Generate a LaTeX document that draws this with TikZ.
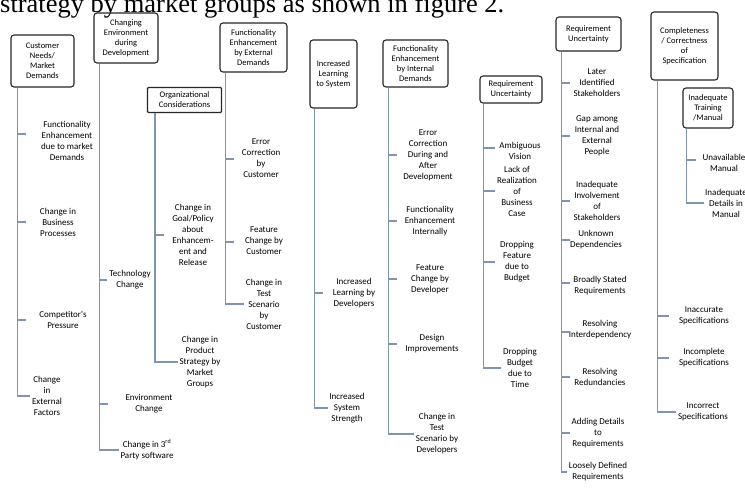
\documentclass[tikz,border=0pt]{standalone}
\usepackage{fontspec}
\newfontfamily\cf{Carlito}
\newfontfamily\capfont{Liberation Serif}
\definecolor{trunkcol}{RGB}{128,148,176}
\begin{document}
\begin{tikzpicture}[x=1pt,y=-1pt,
  hbox/.style={draw=black!85, rounded corners=3pt, line width=1.1pt, align=center,
    font=\cf\fontsize{8.5}{10}\selectfont, inner sep=0pt},
  lbl/.style={align=center, font=\cf\fontsize{9}{11}\selectfont, inner sep=1.5pt},
  trunk/.style={draw=trunkcol, line width=1.3pt},
]
\useasboundingbox (0,0) rectangle (745,491);
\fill[white] (0,0) rectangle (745,491);
\begin{scope}
\clip (0,0) rectangle (745,491);
\node[anchor=base west, inner sep=0pt, font=\capfont\fontsize{26.5}{26.5}\selectfont] (cap) at (0,12) {strategy by market groups as shown in figure 2.};

% boxes
\node[hbox, minimum width=63, minimum height=52] (c1) at (42.5,61) {Customer\\Needs/\\Market\\Demands};
\node[hbox, minimum width=64, minimum height=50] (c2) at (126,38) {Changing\\Environment\\during\\Development};
\node[hbox, rounded corners=1pt, minimum width=74, minimum height=25] (c3) at (184.5,100) {Organizational\\Considerations};
\node[hbox, minimum width=67, minimum height=49] (c4) at (253.5,47.5) {Functionality\\Enhancement\\by External\\Demands};
\node[hbox, minimum width=47, minimum height=68] (c5) at (333.5,74) {Increased\\Learning\\to System};
\node[hbox, minimum width=65, minimum height=47] (c6) at (415.5,63.5) {Functionality\\Enhancement\\by Internal\\Demands};
\node[hbox, minimum width=62, minimum height=27] (c7) at (511,89.5) {Requirement\\Uncertainty};
\node[hbox, minimum width=65, minimum height=34] (c8) at (588.5,34) {Requirement\\Uncertainty};
\node[hbox, minimum width=67, minimum height=68] (c9) at (684.5,46) {Completeness\\/ Correctness\\of\\Specification};
\node[hbox, minimum width=50, minimum height=40] (c10) at (708,108) {Inadequate\\Training\\/Manual};

% trunk tops
\coordinate (t1) at ([xshift=7pt]c1.south west);
\coordinate (t2) at ([xshift=6pt]c2.south west);
\coordinate (t3) at ([xshift=8pt]c3.south west);
\coordinate (t4) at ([xshift=6pt]c4.south west);
\coordinate (t5) at ([xshift=5pt]c5.south west);
\coordinate (t6) at ([xshift=6pt]c6.south west);
\coordinate (t7) at ([xshift=4pt]c7.south west);
\coordinate (t8) at ([xshift=6pt]c8.south west);
\coordinate (t9) at ([xshift=7pt]c9.south west);
\coordinate (t10) at ([xshift=4pt]c10.south west);

% column 1
\node[lbl] (l1a) at (67,141) {Functionality\\Enhancement\\due to market\\Demands};
\node[lbl] (l1b) at (58,222) {Change in\\Business\\Processes};
\node[lbl] (l1c) at (63,320) {Competitor's\\Pressure};
\node[lbl] (l1d) at (47,396) {Change\\in\\External\\Factors};
\draw[trunk] (t1) |- (l1d.west);
\draw[trunk] (t1 |- l1a) ++(0,-7) -- ++(9,0);
\draw[trunk] (t1 |- l1b) -- ++(9,0);
\draw[trunk] (t1 |- l1c) -- ++(9,0);

% column 2
\node[lbl] (l2a) at (130,280) {Technology\\Change};
\node[lbl] (l2b) at (149,404) {Environment\\Change};
\node[lbl] (l2c) at (147,450) {Change in 3\textsuperscript{rd}\\Party software};
\draw[trunk] (t2) |- (l2c.west);
\draw[trunk] (t2 |- l2a) -- ++(8,0);
\draw[trunk] (t2 |- l2b) -- ++(9,0);

% column 3
\node[lbl] (l3a) at (193,235) {Change in\\Goal/Policy\\about\\Enhancem-\\ent and\\Release};
\node[lbl] (l3b) at (200,362) {Change in\\Product\\Strategy by\\Market\\Groups};
\draw[trunk] (t3) |- (l3b.west);
\draw[trunk] (t3 |- l3a) -- ++(9,0);

% column 4
\node[lbl] (l4a) at (261,158) {Error\\Correction\\by\\Customer};
\node[lbl] (l4b) at (264,241) {Feature\\Change by\\Customer};
\node[lbl] (l4c) at (264,304) {Change in\\Test\\Scenario\\by\\Customer};
\draw[trunk] (t4) |- (l4c.west);
\draw[trunk] (t4 |- l4a) ++(0,1) -- ++(9,0);
\draw[trunk] (t4 |- l4b) ++(0,1) -- ++(9,0);

% column 5
\node[lbl] (l5a) at (354,293) {Increased\\Learning by\\Developers};
\node[lbl] (l5b) at (347,408) {Increased\\System\\Strength};
\draw[trunk] (t5) |- (l5b.west);
\draw[trunk] (t5 |- l5a) -- ++(9,0);

% column 6
\node[lbl] (l6a) at (428,155) {Error\\Correction\\During and\\After\\Development};
\node[lbl] (l6b) at (430,221) {Functionality\\Enhancement\\Internally};
\node[lbl] (l6c) at (430,279) {Feature\\Change by\\Developer};
\node[lbl] (l6d) at (432,344) {Design\\Improvements};
\node[lbl] (l6e) at (437,434) {Change in\\Test\\Scenario by\\Developers};
\draw[trunk] (t6) |- (l6e.west);
\draw[trunk] (t6 |- l6a) -- ++(9,0);
\draw[trunk] (t6 |- l6b) -- ++(9,0);
\draw[trunk] (t6 |- l6c) -- ++(9,0);
\draw[trunk] (t6 |- l6d) -- ++(9,0);

% column 7
\node[lbl] (l7a) at (520,151) {Ambiguous\\Vision};
\node[lbl] (l7b) at (517,191) {Lack of\\Realization\\of\\Business\\Case};
\node[lbl] (l7c) at (517,262) {Dropping\\Feature\\due to\\Budget};
\node[lbl] (l7d) at (520,368) {Dropping\\Budget\\due to\\Time};
\draw[trunk] (t7) |- (l7d.west);
\draw[trunk] (t7 |- l7a) ++(0,-3) -- ++(12,0);
\draw[trunk] (t7 |- l7b) -- ++(12,0);
\draw[trunk] (t7 |- l7c) -- ++(12,0);

% column 8
\node[lbl] (l8a) at (597,83) {Later\\Identified\\Stakeholders};
\node[lbl] (l8b) at (597,136) {Gap among\\Internal and\\External\\People};
\node[lbl] (l8c) at (597,201) {Inadequate\\Involvement\\of\\Stakeholders};
\node[lbl] (l8d) at (596,240) {Unknown\\Dependencies};
\node[lbl] (l8e) at (600,286) {Broadly Stated\\Requirements};
\node[lbl] (l8f) at (600,330) {Resolving\\Interdependency};
\node[lbl] (l8g) at (600,377) {Resolving\\Redundancies};
\node[lbl] (l8h) at (598,433) {Adding Details\\to\\Requirements};
\node[lbl] (l8i) at (598,472) {Loosely Defined\\Requirements};
\draw[trunk] (t8) |- (l8i.west);
\draw[trunk] (t8 |- l8a) -- ++(9,0);
\draw[trunk] (t8 |- l8b) -- ++(9,0);
\draw[trunk] (t8 |- l8c) -- ++(9,0);
\draw[trunk] (t8 |- l8d) -- ++(9,0);
\draw[trunk] (t8 |- l8e) ++(0,-3) -- ++(9,0);
\draw[trunk] (t8 |- l8f) ++(0,2) -- ++(9,0);
\draw[trunk] (t8 |- l8g) -- ++(9,0);
\draw[trunk] (t8 |- l8h) -- ++(9,0);

% column 9
\node[lbl] (l9a) at (704,316) {Inaccurate\\Specifications};
\node[lbl] (l9b) at (704,358) {Incomplete\\Specifications};
\node[lbl] (l9c) at (703,412) {Incorrect\\Specifications};
\draw[trunk] (t9) |- (l9c.west);
\draw[trunk] (t9 |- l9a) -- ++(12,0);
\draw[trunk] (t9 |- l9b) -- ++(12,0);

% column 10
\node[lbl] (l10a) at (724,163) {Unavailable\\Manual};
\node[lbl] (l10b) at (726,203) {Inadequate\\Details in\\Manual};
\draw[trunk] (t10) |- (l10b.west);
\draw[trunk] (t10 |- l10a) ++(0,-3) -- ++(10,0);
\end{scope}
\end{tikzpicture}
\end{document}
